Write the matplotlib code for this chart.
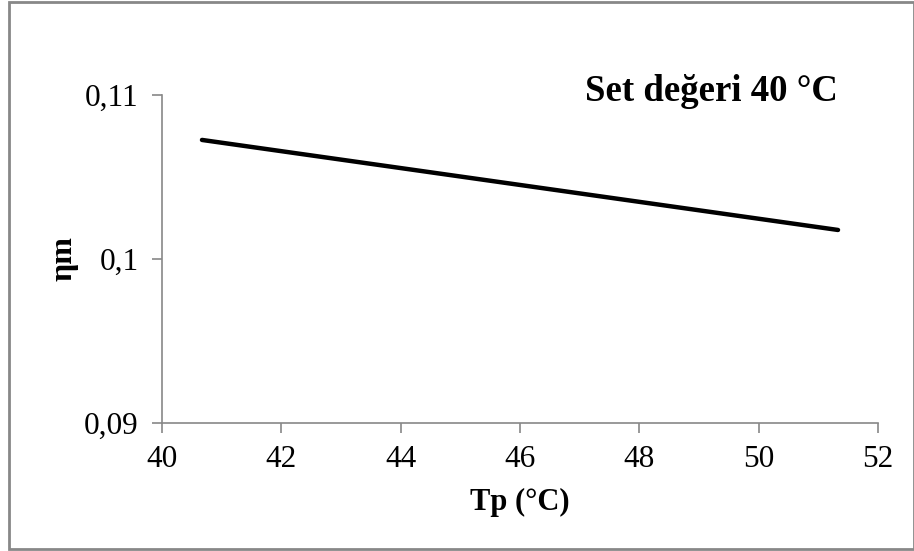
import matplotlib
matplotlib.use("Agg")
import matplotlib.pyplot as plt
from matplotlib.patches import Rectangle

plt.rcParams['font.family'] = ['Liberation Serif', 'DejaVu Serif']

tp = [40.67, 51.33]
eta = [0.10726, 0.10177]
xticks = [40, 42, 44, 46, 48, 50, 52]
yticks = [0.09, 0.10, 0.11]
ytick_labels = ["0,09", "0,1", "0,11"]

W, H = 914, 551
fig = plt.figure(figsize=(W / 100, H / 100), dpi=100)
fig.patches.append(Rectangle((8.5 / W, 2 / H), (913.5 - 8.5) / W, (549 - 2) / H,
                             transform=fig.transFigure, fill=False,
                             edgecolor='#888888', linewidth=2))
ax = fig.add_axes([162 / W, 1 - 423 / H, (878 - 162) / W, (423 - 95) / H])
ax.plot(tp, eta, color='black', linewidth=3.2, solid_capstyle='round')
ax.set_xlim(40, 52)
ax.set_ylim(0.09, 0.11)
ax.set_xticks(xticks)
ax.set_yticks(yticks)
ax.set_yticklabels(ytick_labels)
for s in ['top', 'right']:
    ax.spines[s].set_visible(False)
for s in ['left', 'bottom']:
    ax.spines[s].set_color('#888888')
    ax.spines[s].set_linewidth(1.2)
ax.tick_params(axis='both', direction='out', length=7, width=1.2, color='#888888',
               labelsize=22.5, labelcolor='black')
ax.tick_params(axis='x', pad=9)
ax.tick_params(axis='y', pad=10)
ax.set_xlabel('Tp (°C)', fontsize=22, fontweight='bold', labelpad=10)
ax.set_ylabel('ηm', fontsize=23, fontweight='bold', labelpad=4)
ax.text((838 - 162) / 716, 1.01, 'Set değeri 40 °C', transform=ax.transAxes,
        ha='right', va='center', fontsize=26.5, fontweight='bold')
fig.savefig('out.png', dpi=100)
